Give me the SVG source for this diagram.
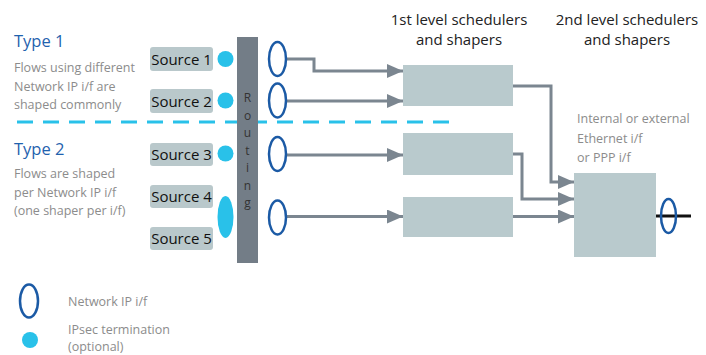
<svg xmlns="http://www.w3.org/2000/svg" width="706" height="355" viewBox="0 0 706 355">
<style>
text{font-family:"Open Sans","Noto Sans",sans-serif}
.type{font-size:16.5px;fill:#1f62ae}
.desc{font-size:12.5px;fill:#8c8c8c}
.hdr{font-size:15px;fill:#222;text-anchor:middle}
.src{font-size:15px;fill:#111;text-anchor:middle}
.srcbox{fill:#b9c8cb}
.box{fill:#b9cacd}
.dot{fill:#29c1e9}
.nif{fill:#fff;stroke:#1b5aa5;stroke-width:2.5}
.conn{fill:none;stroke:#7b8690;stroke-width:3}
.rout{font-size:12px;fill:#333;text-anchor:middle}
</style>
<defs>
<marker id="ah" markerUnits="userSpaceOnUse" markerWidth="18" markerHeight="14" refX="16" refY="7" orient="auto">
<path d="M0,0 L16,7 L0,14 Z" fill="#7b8690"/>
</marker>
</defs>
<rect width="706" height="355" fill="#fff"/>

<g id="headers">
<text class="hdr" x="459" y="25">1st level schedulers</text>
<text class="hdr" x="459" y="45">and shapers</text>
<text class="hdr" x="627" y="25">2nd level schedulers</text>
<text class="hdr" x="627" y="45">and shapers</text>
</g>

<g id="type1">
<text class="type" x="14" y="47">Type 1</text>
<text class="desc" x="14" y="72">Flows using different</text>
<text class="desc" x="14" y="90.5">Network IP i/f are</text>
<text class="desc" x="14" y="109">shaped commonly</text>
</g>
<g id="type2">
<text class="type" x="14" y="155">Type 2</text>
<text class="desc" x="14" y="178">Flows are shaped</text>
<text class="desc" x="14" y="196.5">per Network IP i/f</text>
<text class="desc" x="14" y="215">(one shaper per i/f)</text>
</g>

<line id="divider" x1="17" y1="122" x2="452" y2="122" stroke="#29c1e9" stroke-width="3" stroke-dasharray="16 10"/>

<g id="source1"><rect class="srcbox" x="150" y="47" width="63" height="24" rx="3"/><text class="src" x="181.5" y="65">Source 1</text></g>
<g id="source2"><rect class="srcbox" x="150" y="89" width="63" height="24" rx="3"/><text class="src" x="181.5" y="107">Source 2</text></g>
<g id="source3"><rect class="srcbox" x="150" y="143" width="63" height="23" rx="3"/><text class="src" x="181.5" y="160">Source 3</text></g>
<g id="source4"><rect class="srcbox" x="150" y="185" width="63" height="23" rx="3"/><text class="src" x="181.5" y="202">Source 4</text></g>
<g id="source5"><rect class="srcbox" x="150" y="227" width="63" height="23" rx="3"/><text class="src" x="181.5" y="244">Source 5</text></g>

<g id="ipsec">
<circle class="dot" cx="225.5" cy="59" r="8"/>
<circle class="dot" cx="225.5" cy="100.5" r="8"/>
<circle class="dot" cx="225.5" cy="153.5" r="8"/>
<ellipse class="dot" cx="225.5" cy="217" rx="8" ry="21"/>
</g>

<g id="routing">
<rect x="237" y="37" width="21" height="226" fill="#737d87"/>
<text class="rout" x="247.5" y="102">R</text>
<text class="rout" x="247.5" y="119.5">o</text>
<text class="rout" x="247.5" y="137">u</text>
<text class="rout" x="247.5" y="154.5">t</text>
<text class="rout" x="247.5" y="172">i</text>
<text class="rout" x="247.5" y="189.5">n</text>
<text class="rout" x="247.5" y="207">g</text>
</g>

<g id="connectors">
<polyline class="conn" points="286,59 314,59 314,71 403,71" marker-end="url(#ah)"/>
<line class="conn" x1="286" y1="101" x2="403" y2="101" marker-end="url(#ah)"/>
<line class="conn" x1="286" y1="155" x2="403" y2="155" marker-end="url(#ah)"/>
<line class="conn" x1="286" y1="216.5" x2="403" y2="216.5" marker-end="url(#ah)"/>
<polyline class="conn" points="513,86 551,86 551,182 574,182" marker-end="url(#ah)"/>
<polyline class="conn" points="513,154 522,154 522,199 574,199" marker-end="url(#ah)"/>
<line class="conn" x1="513" y1="216.5" x2="574" y2="216.5" marker-end="url(#ah)"/>
<line x1="656" y1="216" x2="691" y2="216" stroke="#111" stroke-width="3"/>
</g>

<g id="nif">
<ellipse class="nif" cx="277.5" cy="59" rx="8.5" ry="17"/>
<ellipse class="nif" cx="277.5" cy="100.5" rx="8.5" ry="17"/>
<ellipse class="nif" cx="277.5" cy="154" rx="8.5" ry="17"/>
<ellipse class="nif" cx="277.5" cy="217.5" rx="8.5" ry="17"/>
</g>

<g id="sched1a"><rect class="box" x="403" y="65" width="110" height="41"/></g>
<g id="sched1b"><rect class="box" x="403" y="133" width="110" height="42"/></g>
<g id="sched1c"><rect class="box" x="403" y="197" width="110" height="40"/></g>

<g id="sched2">
<text class="desc" x="577" y="123">Internal or external</text>
<text class="desc" x="577" y="142.5">Ethernet i/f</text>
<text class="desc" x="577" y="162">or PPP i/f</text>
<rect class="box" x="574" y="173" width="82" height="84"/>
<ellipse fill="none" stroke="#1b5aa5" stroke-width="2.5" cx="668.5" cy="216" rx="7.5" ry="17"/>
</g>

<g id="legend">
<ellipse class="nif" cx="29" cy="301" rx="9" ry="16.5"/>
<text class="desc" x="68" y="306">Network IP i/f</text>
<circle class="dot" cx="30" cy="340" r="8"/>
<text class="desc" x="68" y="334">IPsec termination</text>
<text class="desc" x="68" y="350.5">(optional)</text>
</g>
</svg>
